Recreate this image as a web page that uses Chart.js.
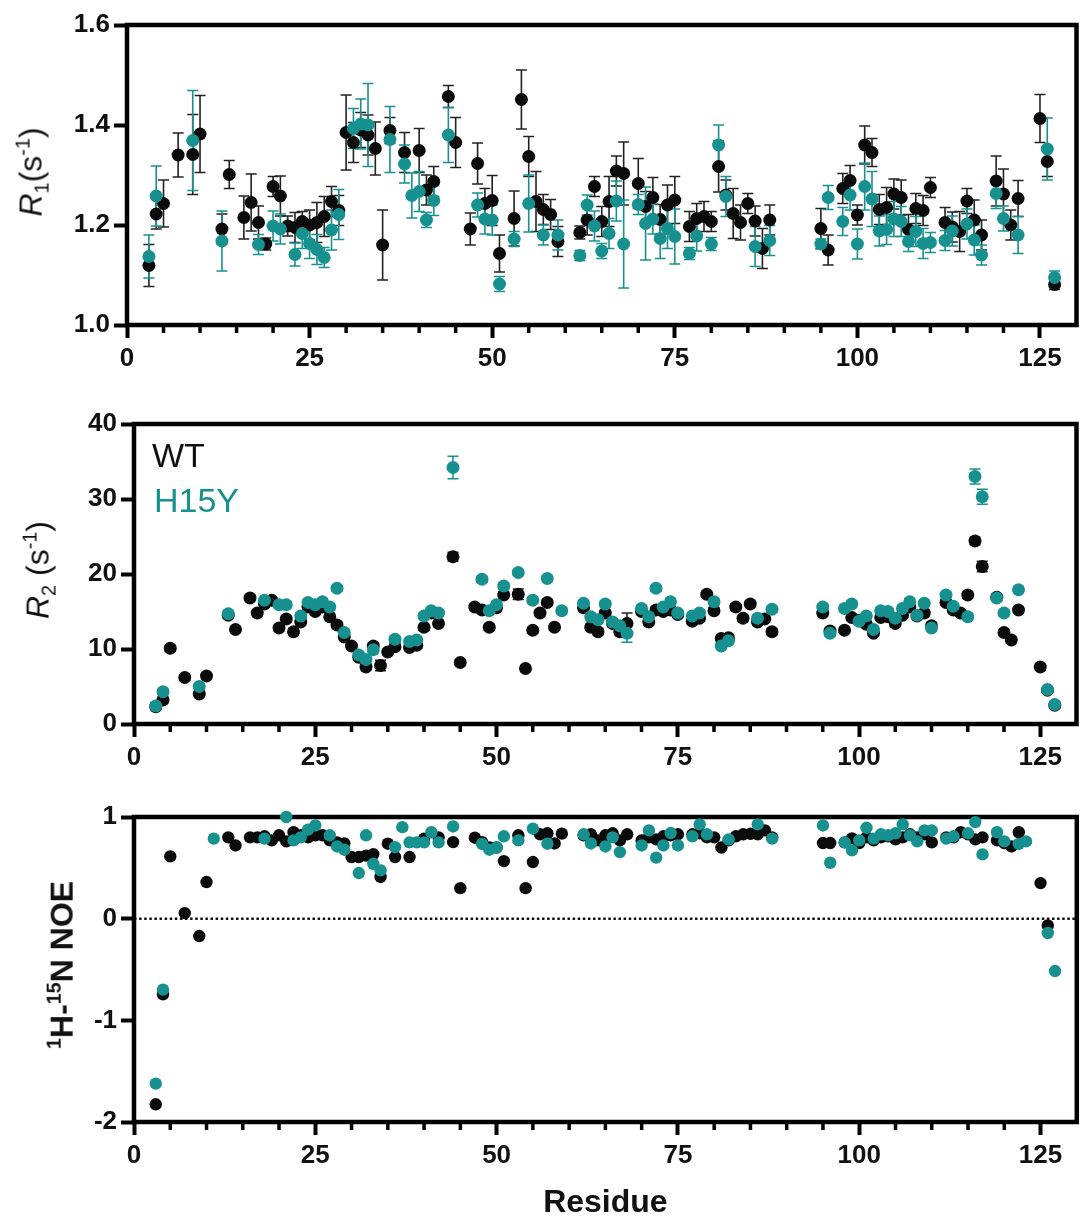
<!DOCTYPE html>
<html>
<head>
<meta charset="utf-8">
<script src="https://cdn.jsdelivr.net/npm/chart.js@4.4.6/dist/chart.umd.min.js"></script>
<style>
  body { margin: 0; background: #fff; }
  #wrap { position: relative; width: 1083px; height: 1222px; font-family: "Liberation Sans", Arial, sans-serif; color: #111; }
  canvas { position: absolute; left: 0; }
  .ytitle { position: absolute; transform: translate(-50%, -50%) rotate(-90deg); white-space: nowrap; font-size: 32px; line-height: 1; }
  .ytitle sub, .ytitle sup { font-size: 0.62em; }
  .legend { position: absolute; font-size: 34px; line-height: 1; }
</style>
</head>
<body>
<div id="wrap">
  <canvas id="r1" width="1083" height="380" style="top:0"></canvas>
  <canvas id="r2" width="1083" height="400" style="top:380px"></canvas>
  <canvas id="noe" width="1083" height="442" style="top:780px"></canvas>
  <div class="ytitle" style="left:33px;top:172px"><i>R</i><sub>1</sub>(s<sup>-1</sup>)</div>
  <div class="ytitle" style="left:40px;top:570px"><i>R</i><sub>2</sub> (s<sup>-1</sup>)</div>
  <div class="ytitle" style="left:61px;top:965px;font-weight:bold"><sup>1</sup>H-<sup>15</sup>N NOE</div>
  <div class="legend" style="left:152px;top:438px;color:#111">WT</div>
  <div class="legend" style="left:154px;top:483px;color:#17918f">H15Y</div>
</div>
<script>
// residue numbers shared by all three panels (null = no value for that residue)
const residues = [3, 4, 5, 7, 9, 10, 11,
  13, 14, 16, 17, 18, 19, 20, 21, 22, 23,
  24, 25, 26, 27, 28, 29, 30, 31, 32, 33,
  34, 35, 36, 37, 38, 39, 40, 41, 42, 44,
  45, 47, 48, 49, 50, 51, 53, 54, 55, 56,
  57, 58, 59, 62, 63, 64, 65, 66, 67, 68,
  70, 71, 72, 73, 74, 75, 77, 78, 79, 80,
  81, 82, 83, 84, 85, 86, 87, 88, 95, 96,
  98, 99, 100, 101, 102, 103, 104, 105, 106, 107,
  108, 109, 110, 112, 113, 114, 115, 116, 117, 119,
  120, 121, 122, 123, 125, 126, 127];

const r1WT = [1.119, 1.222, 1.243, 1.340, 1.341, 1.382, null,
  1.192, 1.301, 1.215, 1.245, 1.205, 1.162, 1.277, 1.258, 1.198, 1.195,
  1.207, 1.200, 1.205, 1.217, 1.247, 1.229, 1.385, 1.365, 1.390, 1.380,
  1.353, 1.160, 1.389, null, 1.345, null, 1.349, 1.270, 1.287, 1.457,
  1.365, 1.192, 1.323, 1.243, 1.249, 1.143, 1.213, 1.451, 1.337, 1.247,
  1.231, 1.221, 1.167, 1.185, 1.210, 1.277, 1.207, 1.247, 1.308, 1.303,
  1.283, 1.237, 1.255, 1.211, 1.240, 1.250, 1.197, 1.213, 1.217, 1.207,
  1.317, 1.260, 1.223, 1.205, 1.243, 1.208, 1.153, 1.210, 1.193, 1.150,
  1.273, 1.289, 1.220, 1.360, 1.345, 1.231, 1.235, 1.262, 1.255, 1.191,
  1.233, 1.229, 1.275, 1.205, 1.196, 1.187, 1.248, 1.210, 1.180, 1.288,
  1.262, 1.200, 1.253, null, 1.413, 1.327, 1.081];
const r1WTErr = [.042, .030, .047, .044, .080, .077, null,
  .030, .028, .043, .057, .033, .012, .020, .040, .020, .030,
  .020, .030, .040, .040, .030, .030, .075, .040, .035, .040,
  .053, .070, .026, null, .040, null, .044, .030, .030, .022,
  .050, .032, .041, .030, .050, .037, .055, .059, .040, .060,
  .030, .030, .030, .013, .030, .020, .030, .050, .030, .063,
  .050, .030, .040, .030, .040, .047, .030, .030, .030, .020,
  .051, .030, .050, .035, .020, .030, .040, .030, .040, .030,
  .030, .030, .020, .038, .028, .030, .040, .030, .035, .030,
  .030, .030, .020, .030, .030, .040, .025, .040, .030, .050,
  .050, .030, .036, null, .048, .030, .010];
const r1H15Y = [1.137, 1.258, null, null, 1.369, null, null,
  1.168, null, null, null, 1.161, null, 1.198, 1.192, null, 1.141,
  1.183, 1.163, 1.151, 1.135, 1.190, 1.221, null, 1.393, 1.402, 1.400,
  null, null, 1.371, null, 1.322, 1.259, 1.267, 1.210, 1.249, 1.380,
  null, null, 1.240, 1.212, 1.210, 1.082, 1.172, null, 1.243, null,
  1.180, null, 1.180, 1.139, 1.240, 1.198, 1.148, 1.183, 1.248, 1.162,
  1.241, 1.203, 1.212, 1.173, 1.193, 1.177, 1.143, 1.178, null, 1.162,
  1.360, 1.257, null, null, null, 1.157, null, 1.169, 1.162, 1.255,
  1.207, 1.260, 1.162, 1.277, 1.252, 1.188, 1.191, 1.212, 1.207, 1.167,
  1.187, 1.163, 1.165, 1.169, 1.188, null, 1.202, 1.170, 1.140, 1.263,
  1.213, null, 1.180, null, null, 1.352, 1.095];
const r1H15YErr = [.043, .060, null, null, .100, null, null,
  .060, null, null, null, .020, null, .030, .030, null, .023,
  .030, .030, .030, .020, .040, .050, null, .040, .050, .083,
  null, null, .066, null, .038, .045, .040, .015, .030, .055,
  null, null, .024, .030, .030, .015, .015, null, .057, null,
  .020, null, .030, .010, .020, .030, .015, .030, .040, .088,
  .020, .073, .030, .040, .040, .055, .012, .030, null, .013,
  .040, .040, null, null, null, .040, null, .030, .010, .024,
  .028, .030, .030, .047, .055, .030, .030, .035, .030, .020,
  .030, .030, .020, .020, .030, null, .030, .030, .020, .030,
  .025, null, .037, null, null, .062, .013];

const r2WT = [2.3, 3.2, 10.1, 6.2, 4.0, 6.4, null,
  14.5, 12.6, 16.8, 14.8, 16.0, 16.5, 12.8, 14.0, 12.3, 13.6,
  15.6, 15.0, 15.6, 14.3, 13.2, 11.6, 10.4, 8.9, 7.6, 10.4,
  7.8, 9.6, 10.3, null, 10.2, 10.5, 12.9, 14.8, 13.4, 22.3,
  8.2, 15.6, 15.2, 12.9, 15.5, 17.2, 17.3, 7.4, 12.5, 14.8,
  16.2, 12.9, null, 15.5, 12.9, 12.3, 14.8, 13.4, 12.3, 13.4,
  15.0, 13.6, 15.2, 15.0, 15.2, 14.6, 13.7, 14.1, 17.3, 15.1,
  11.4, 11.5, 15.6, 14.1, 16.0, 13.6, 14.0, 12.3, 14.8, 12.4,
  12.5, 14.2, 13.8, 13.3, 12.1, 14.2, 14.3, 13.4, 14.5, 15.6,
  14.4, 14.8, 13.1, 16.2, 15.2, 14.8, 17.2, 24.4, 21.0, 16.9,
  12.2, 11.2, 15.2, null, 7.6, 4.5, 2.5];
const r2WTErr = [.4, .4, .4, .4, .4, .4, null,
  .4, .4, .4, .4, .4, .4, .4, .4, .4, .4,
  .4, .4, .4, .4, .4, .4, .4, .4, .4, .4,
  .7, .4, .4, null, .4, .4, .4, .4, .4, .6,
  .4, .4, .4, .4, .4, .4, .7, .4, .4, .4,
  .4, .4, null, .4, .4, .4, .4, .4, .4, 1.4,
  .4, .4, .4, .4, .4, .4, .4, .4, .4, .4,
  .4, .4, .4, .4, .4, .4, .4, .4, .4, .4,
  .4, .4, .4, .4, .4, .4, .4, .4, .4, .4,
  .4, .4, .4, .4, .4, .4, .4, .5, .7, .4,
  .4, .4, .4, null, .4, .4, .4];
const r2H15Y = [2.4, 4.3, null, null, 5.0, null, null,
  14.7, null, null, null, 16.5, null, 15.9, 15.9, null, 14.4,
  16.2, 15.9, 16.3, 15.6, 18.1, 12.2, null, 9.2, 8.6, 9.9,
  null, null, 11.3, null, 11.0, 11.2, 14.4, 15.1, 14.8, 34.2,
  null, null, 19.3, 15.1, 15.9, 18.4, 20.2, null, 16.5, null,
  19.4, null, 15.1, 16.1, 14.3, 13.9, 16.0, 13.6, 13.1, 12.1,
  15.4, 14.3, 18.1, 15.6, 16.3, 14.8, 14.4, 14.8, null, 16.3,
  10.4, 11.1, null, null, null, 14.1, null, 15.3, 15.6, 12.1,
  15.4, 16.0, 13.7, 14.4, 12.6, 15.1, 15.0, 14.1, 15.4, 16.3,
  14.5, 16.1, 12.8, 17.2, 15.7, null, 14.3, 33.0, 30.3, 16.8,
  14.8, null, 17.9, null, null, 4.6, 2.6];
const r2H15YErr = [.4, .4, null, null, .4, null, null,
  .4, null, null, null, .4, null, .4, .4, null, .4,
  .4, .4, .4, .4, .4, .4, null, .4, .4, .4,
  null, null, .4, null, .4, .4, .4, .4, .4, 1.5,
  null, null, .4, .4, .4, .4, .4, null, .4, null,
  .4, null, .4, .4, .4, .4, .4, .4, .4, 1.2,
  .4, .4, .4, .4, .4, .4, .4, .4, null, .4,
  .4, .4, null, null, null, .4, null, .4, .4, .4,
  .4, .4, .4, .4, .4, .4, .4, .4, .4, .4,
  .4, .4, .4, .4, .4, null, .4, 1.0, 1.0, .4,
  .4, null, .4, null, null, .4, .4];

const noeWT = [-1.826, -0.744, 0.613, 0.055, -0.171, 0.360, null,
  0.80, 0.72, 0.80, 0.80, 0.81, 0.77, 0.82, 0.76, 0.85, 0.82,
  0.80, 0.82, 0.82, 0.77, 0.75, 0.74, 0.606, 0.606, 0.62, 0.635,
  0.41, 0.737, 0.606, null, 0.606, null, 0.787, null, 0.80, 0.753,
  0.30, 0.796, 0.753, 0.70, 0.70, 0.566, 0.82, 0.30, 0.557, 0.83,
  0.84, 0.74, 0.836, 0.82, 0.83, 0.77, 0.82, 0.84, 0.77, 0.83,
  0.77, 0.80, 0.78, 0.81, 0.82, 0.83, 0.83, 0.84, 0.80, 0.80,
  0.70, 0.77, 0.81, 0.83, 0.835, 0.83, 0.868, 0.80, 0.744, 0.744,
  0.75, 0.79, 0.744, 0.80, 0.77, 0.80, 0.81, 0.78, 0.80, 0.83,
  0.80, 0.83, 0.75, 0.80, 0.80, 0.85, 0.83, 0.78, 0.80, 0.77,
  0.744, 0.71, 0.85, null, 0.35, -0.066, null];
const noeH15Y = [-1.623, -0.698, null, null, null, null, 0.787,
  null, null, null, null, 0.787, null, null, 1.0, 0.77, 0.80,
  0.875, 0.917, null, 0.82, 0.71, 0.678, null, 0.449, 0.82, 0.54,
  0.475, null, 0.704, 0.90, 0.75, 0.75, 0.75, 0.85, 0.75, 0.907,
  null, null, 0.735, 0.678, 0.70, 0.81, 0.77, null, 0.885, null,
  0.737, null, null, 0.83, 0.74, null, 0.71, 0.80, 0.655, null,
  0.72, 0.868, 0.60, 0.72, 0.842, 0.72, 0.81, 0.927, 0.83, null,
  null, 0.78, null, null, null, 0.927, null, 0.787, 0.917, 0.55,
  0.75, 0.672, 0.77, 0.894, 0.787, 0.83, 0.82, 0.84, 0.927, 0.82,
  0.76, 0.868, 0.868, 0.787, 0.81, null, 0.84, 0.95, 0.632, 0.85,
  0.76, null, 0.735, 0.76, null, -0.141, -0.515];

const xTicks = [0, 25, 50, 75, 100, 125];

const TEAL = '#17918f';
const BLACK = '#0b0b0b';
const tickFont = { family: '"Liberation Sans", Arial, sans-serif', weight: 'bold', size: 26 };

function points(values, errors) {
  const out = [];
  residues.forEach((r, i) => {
    if (values[i] === null) return;
    out.push({ x: r, y: values[i], err: errors ? errors[i] : null });
  });
  return out;
}

// error bars, minor ticks, zero line and the box frame
const panelDecor = {
  id: 'panelDecor',
  beforeDatasetsDraw(chart, args, opts) {
    const { ctx, chartArea: a, scales: { x, y } } = chart;
    ctx.save();
    if (opts.zeroLine) {
      const py = y.getPixelForValue(0);
      ctx.setLineDash([2.5, 2.6]);
      ctx.lineWidth = 2.5;
      ctx.strokeStyle = '#111';
      ctx.beginPath(); ctx.moveTo(a.left, py); ctx.lineTo(a.right, py); ctx.stroke();
      ctx.setLineDash([]);
    }
    ctx.strokeStyle = '#000';
    ctx.lineWidth = 3.5;
    for (let v = 5; v < 130; v += 5) {
      if (v % 25 === 0) continue;
      const px = x.getPixelForValue(v);
      ctx.beginPath(); ctx.moveTo(px, a.bottom); ctx.lineTo(px, a.bottom + 8); ctx.stroke();
    }
    chart.data.datasets.forEach(ds => {
      ctx.strokeStyle = ds.errorColor;
      ctx.lineWidth = 1.6;
      ds.data.forEach(p => {
        if (p.err == null) return;
        const px = x.getPixelForValue(p.x);
        const top = y.getPixelForValue(p.y + p.err);
        const bot = y.getPixelForValue(p.y - p.err);
        ctx.beginPath();
        ctx.moveTo(px, top); ctx.lineTo(px, bot);
        ctx.moveTo(px - 5.5, top); ctx.lineTo(px + 5.5, top);
        ctx.moveTo(px - 5.5, bot); ctx.lineTo(px + 5.5, bot);
        ctx.stroke();
      });
    });
    ctx.lineWidth = 4.5;
    ctx.strokeStyle = '#000';
    ctx.strokeRect(a.left, a.top, a.right - a.left, a.bottom - a.top);
    ctx.restore();
  }
};

function makeChart(id, cfg) {
  return new Chart(document.getElementById(id), {
    type: 'scatter',
    data: {
      datasets: [
        { label: 'WT', data: cfg.wt, backgroundColor: BLACK, errorColor: '#222', order: 2, clip: false },
        { label: 'H15Y', data: cfg.mut, backgroundColor: TEAL, errorColor: TEAL, order: 1, clip: false }
      ]
    },
    options: {
      responsive: false,
      animation: false,
      devicePixelRatio: 1,
      layout: { padding: cfg.padding },
      plugins: { legend: { display: false }, tooltip: { enabled: false }, panelDecor: { zeroLine: !!cfg.zeroLine } },
      elements: { point: { radius: cfg.radius, hoverRadius: cfg.radius, borderWidth: 0, hoverBorderWidth: 0 } },
      scales: {
        x: {
          type: 'linear', min: 0, max: 130,
          afterFit: s => { s.height = cfg.xHeight; },
          afterBuildTicks: s => { s.ticks = xTicks.map(v => ({ value: v })); },
          border: { display: false },
          grid: { drawOnChartArea: false, tickLength: 13, tickWidth: 4, tickColor: '#000' },
          ticks: { padding: 5, color: '#111', font: tickFont, maxRotation: 0, autoSkip: false },
          title: cfg.xTitle
            ? { display: true, text: cfg.xTitle, color: '#111', padding: 0, font: { family: tickFont.family, weight: 'bold', size: 32 } }
            : { display: false }
        },
        y: {
          type: 'linear', min: cfg.yMin, max: cfg.yMax,
          afterFit: s => { s.width = cfg.yWidth; },
          afterBuildTicks: s => { s.ticks = cfg.yTicks.map(v => ({ value: v })); },
          border: { display: false },
          grid: { drawOnChartArea: false, tickLength: 13, tickWidth: 4, tickColor: '#000' },
          ticks: { padding: 4, color: '#111', font: tickFont, callback: cfg.yFormat }
        }
      }
    },
    plugins: [panelDecor]
  });
}

makeChart('r1', {
  wt: points(r1WT, r1WTErr), mut: points(r1H15Y, r1H15YErr),
  padding: { top: 25, right: 5, left: 0, bottom: 0 }, xHeight: 55, yWidth: 127,
  yMin: 1.0, yMax: 1.6, yTicks: [1.0, 1.2, 1.4, 1.6], yFormat: v => v.toFixed(1), radius: 6.5
});
makeChart('r2', {
  wt: points(r2WT, r2WTErr), mut: points(r2H15Y, r2H15YErr),
  padding: { top: 44, right: 6, left: 0, bottom: 0 }, xHeight: 56, yWidth: 134,
  yMin: 0, yMax: 40, yTicks: [0, 10, 20, 30, 40], yFormat: v => String(v), radius: 6.5
});
makeChart('noe', {
  wt: points(noeWT), mut: points(noeH15Y),
  padding: { top: 37, right: 6, left: 0, bottom: 0 }, xHeight: 100, yWidth: 134,
  yMin: -2, yMax: 1, yTicks: [-2, -1, 0, 1], yFormat: v => String(v), radius: 6.2,
  zeroLine: true, xTitle: 'Residue'
});
</script>
</body>
</html>
